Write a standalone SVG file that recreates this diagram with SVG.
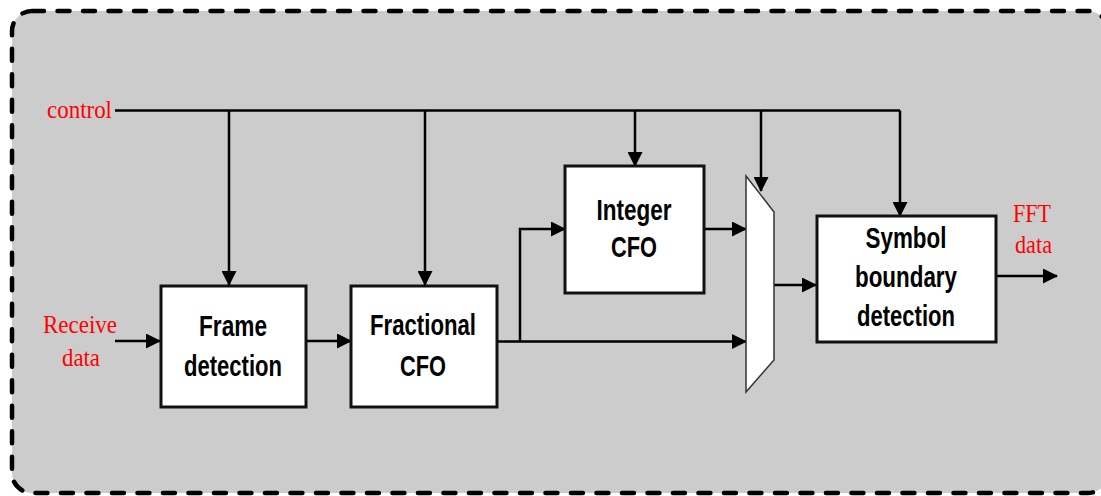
<svg xmlns="http://www.w3.org/2000/svg" width="1101" height="496" viewBox="0 0 1101 496">
  <style>
    .frame { fill: #cccccc; stroke: #000; stroke-width: 4.5; stroke-dasharray: 12 13.5; stroke-linecap: round; }
    .box { fill: #fff; stroke: #111; stroke-width: 3; }
    .mux { fill: #fff; stroke: #333; stroke-width: 1.5; }
    .wire { fill: none; stroke: #000; stroke-width: 2.5; }
    .lbl { font-family: "Liberation Sans", Arial, sans-serif; font-weight: bold; font-size: 30px; fill: #000; text-anchor: middle; }
    .sig { font-family: "Liberation Serif", "Times New Roman", serif; font-size: 26px; fill: #ff0000; }
  </style>
  <defs>
    <marker id="arrow" viewBox="0 0 15 15" refX="14" refY="7.5" markerWidth="15" markerHeight="15" markerUnits="userSpaceOnUse" orient="auto">
      <path d="M0,0 L15,7.5 L0,15 z" fill="#000"/>
    </marker>
  </defs>

  <!-- dashed enclosure -->
  <rect class="frame" x="12" y="11" width="1096" height="482" rx="20" ry="20"/>

  <!-- connectors -->
  <g id="connectors">
    <path class="wire" d="M115,110.5 H900"/>
    <path class="wire" d="M229,110.5 V285" marker-end="url(#arrow)"/>
    <path class="wire" d="M425,110.5 V285" marker-end="url(#arrow)"/>
    <path class="wire" d="M635,110.5 V166" marker-end="url(#arrow)"/>
    <path class="wire" d="M761,110.5 V191" marker-end="url(#arrow)"/>
    <path class="wire" d="M900,110.5 V216" marker-end="url(#arrow)"/>
    <path class="wire" d="M115,341 H160" marker-end="url(#arrow)"/>
    <path class="wire" d="M306,341 H351" marker-end="url(#arrow)"/>
    <path class="wire" d="M497,341.5 H746" marker-end="url(#arrow)"/>
    <path class="wire" d="M520,341.5 V229 H565" marker-end="url(#arrow)"/>
    <path class="wire" d="M704,229 H746" marker-end="url(#arrow)"/>
    <path class="wire" d="M774,285 H816" marker-end="url(#arrow)"/>
    <path class="wire" d="M996,276 H1057" marker-end="url(#arrow)"/>
  </g>

  <!-- processing blocks -->
  <g id="frame-detection">
    <rect class="box" x="161" y="286" width="145" height="121"/>
    <text class="lbl" x="233" y="336" textLength="68" lengthAdjust="spacingAndGlyphs">Frame</text>
    <text class="lbl" x="233" y="376" textLength="98" lengthAdjust="spacingAndGlyphs">detection</text>
  </g>

  <g id="fractional-cfo">
    <rect class="box" x="351" y="286" width="146" height="121"/>
    <text class="lbl" x="423" y="335" textLength="106" lengthAdjust="spacingAndGlyphs">Fractional</text>
    <text class="lbl" x="423" y="376" textLength="46" lengthAdjust="spacingAndGlyphs">CFO</text>
  </g>

  <g id="integer-cfo">
    <rect class="box" x="565" y="166" width="139" height="127"/>
    <text class="lbl" x="634" y="220" textLength="75" lengthAdjust="spacingAndGlyphs">Integer</text>
    <text class="lbl" x="634" y="257" textLength="46" lengthAdjust="spacingAndGlyphs">CFO</text>
  </g>

  <g id="mux">
    <polygon class="mux" points="746,176 774,212 774,360 746,392"/>
  </g>

  <g id="symbol-boundary-detection">
    <rect class="box" x="817" y="216" width="179" height="126"/>
    <text class="lbl" x="906" y="248" textLength="81" lengthAdjust="spacingAndGlyphs">Symbol</text>
    <text class="lbl" x="906" y="287" textLength="102" lengthAdjust="spacingAndGlyphs">boundary</text>
    <text class="lbl" x="906" y="326" textLength="98" lengthAdjust="spacingAndGlyphs">detection</text>
  </g>

  <!-- signal names -->
  <g id="signal-labels">
    <text class="sig" x="47" y="118" textLength="65" lengthAdjust="spacingAndGlyphs">control</text>
    <text class="sig" x="43" y="333" textLength="74" lengthAdjust="spacingAndGlyphs">Receive</text>
    <text class="sig" x="62" y="366" textLength="38" lengthAdjust="spacingAndGlyphs">data</text>
    <text class="sig" x="1013" y="222" textLength="38" lengthAdjust="spacingAndGlyphs">FFT</text>
    <text class="sig" x="1015" y="253" textLength="37" lengthAdjust="spacingAndGlyphs">data</text>
  </g>
</svg>
